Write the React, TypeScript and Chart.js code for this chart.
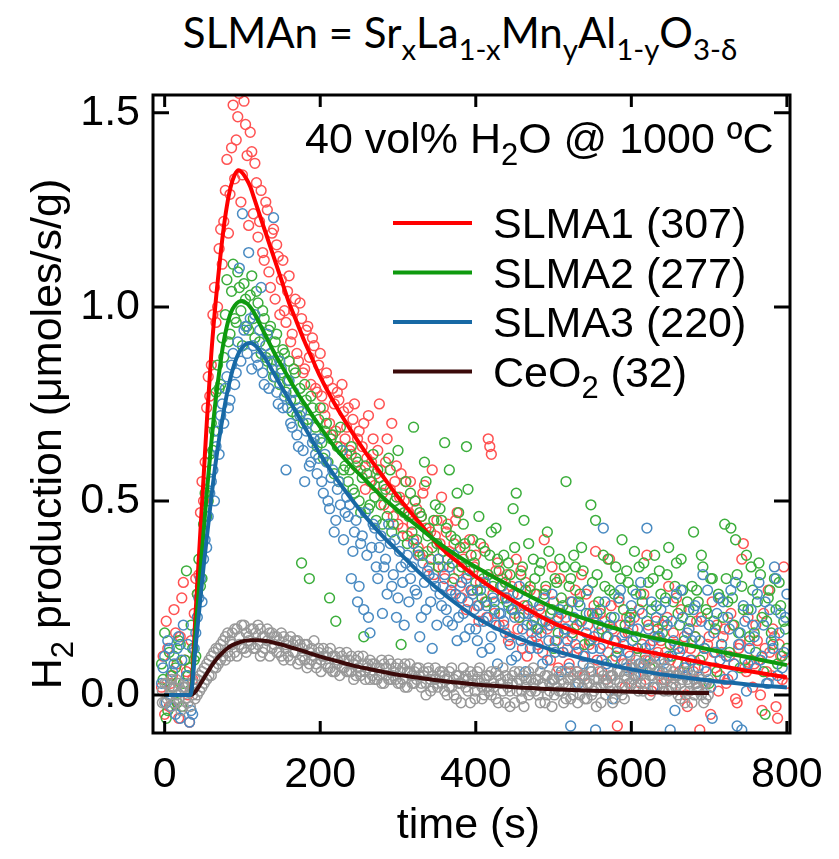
import React, { useEffect, useRef } from "react";
import { Chart, registerables } from "chart.js";

Chart.register(...registerables);

const FONT = '"Liberation Sans", Arial, Helvetica, sans-serif';
const TITLE_FONT = 'Lato, "Open Sans", sans-serif';

// ---- axes ----
const X_MIN = -15;
const X_MAX = 804;
const Y_MIN = -0.098;
const Y_MAX = 1.546;
const X_TICKS = [0, 200, 400, 600, 800];
const Y_TICKS = [0, 0.5, 1.0, 1.5];

// ---- texts ----
const TITLE_RUNS: Array<[string, boolean]> = [
  ["SLMAn = Sr", false], ["x", true], ["La", false], ["1-x", true], ["Mn", false],
  ["y", true], ["Al", false], ["1-y", true], ["O", false], ["3-δ", true],
];
const X_TITLE = "time (s)";
const Y_TITLE = "H₂ production (μmoles/s/g)";
const NOTE = "40 vol% H₂O @ 1000 ºC";
const LEGEND_LABELS = ["SLMA1 (307)", "SLMA2 (277)", "SLMA3 (220)", "CeO₂ (32)"];

// ---- fitted curves ----
const CURVE_T = [0, 33, 40, 45, 50, 55, 60, 65, 70, 75, 80, 85, 90, 95, 100, 105, 110, 115, 120,
  130, 140, 150, 160, 170, 180, 190, 200, 220, 240, 260, 280, 300, 325, 350, 375, 400,
  450, 500, 550, 600, 650, 700, 750, 800];
const FIT_SLMA1 = [0, 0, 0.22, 0.39, 0.56, 0.73, 0.88, 1.00, 1.10, 1.19, 1.26, 1.31, 1.34, 1.352, 1.345, 1.33, 1.31, 1.28, 1.25,
  1.19, 1.13, 1.07, 1.01, 0.96, 0.91, 0.865, 0.82, 0.745, 0.68, 0.62, 0.565, 0.51, 0.45, 0.39, 0.345, 0.305,
  0.24, 0.185, 0.148, 0.12, 0.10, 0.08, 0.062, 0.045];
const FIT_SLMA2 = [0, 0, 0.17, 0.30, 0.42, 0.54, 0.65, 0.75, 0.83, 0.90, 0.95, 0.985, 1.003, 1.013, 1.015, 1.01, 1.0, 0.985, 0.965,
  0.925, 0.885, 0.85, 0.815, 0.78, 0.75, 0.72, 0.69, 0.635, 0.59, 0.55, 0.51, 0.475, 0.435, 0.395, 0.36, 0.33,
  0.275, 0.225, 0.19, 0.16, 0.138, 0.117, 0.097, 0.077];
const FIT_SLMA3 = [0, 0, 0.13, 0.23, 0.33, 0.42, 0.51, 0.59, 0.66, 0.72, 0.775, 0.82, 0.855, 0.88, 0.896, 0.905, 0.907, 0.903, 0.893,
  0.865, 0.83, 0.795, 0.76, 0.725, 0.69, 0.655, 0.62, 0.56, 0.505, 0.455, 0.41, 0.37, 0.32, 0.275, 0.235, 0.20,
  0.15, 0.115, 0.088, 0.066, 0.05, 0.037, 0.027, 0.019];
const FIT_CEO2 = [0, 0, 0.01, 0.025, 0.042, 0.058, 0.074, 0.088, 0.10, 0.11, 0.119, 0.126, 0.131, 0.135, 0.138, 0.14, 0.141, 0.141, 0.141,
  0.139, 0.135, 0.13, 0.124, 0.118, 0.112, 0.105, 0.099, 0.088, 0.077, 0.068, 0.06, 0.052, 0.045, 0.038, 0.032, 0.027,
  0.02, 0.015, 0.011, 0.008, 0.006, 0.005, null, null];

// ---- measured points (SLMA series), two interleaved sampling grids ----
const T_SCAT = [-4, 0, 4, 8, 12, 16, 20, 24, 28, 32,
  36, 40, 44, 48, 52, 56, 60, 64, 68, 72,
  76, 80, 84, 88, 92, 96, 100, 104, 108, 112,
  116, 120, 124, 128, 132, 136, 140, 144, 148, 152,
  156, 160, 164, 168, 172, 176, 180, 184, 188, 192,
  196, 200, 204, 208, 212, 216, 220, 224, 228, 232,
  236, 240, 244, 248, 252, 256, 260, 264, 268, 272,
  276, 280, 284, 288, 292, 296, 300, 304, 308, 312,
  316, 320, 324, 328, 332, 336, 340, 344, 348, 352,
  356, 360, 364, 368, 372, 376, 380, 384, 388, 392,
  396, 400, 404, 408, 412, 416, 420, 424, 428, 432,
  436, 440, 444, 448, 452, 456, 460, 464, 468, 472,
  476, 480, 484, 488, 492, 496, 500, 504, 508, 512,
  516, 520, 524, 528, 532, 536, 540, 544, 548, 552,
  556, 560, 564, 568, 572, 576, 580, 584, 588, 592,
  596, 600, 604, 608, 612, 616, 620, 624, 628, 632,
  636, 640, 644, 648, 652, 656, 660, 664, 668, 672,
  676, 680, 684, 688, 692, 696, 700, 704, 708, 712,
  716, 720, 724, 728, 732, 736, 740, 744, 748, 752,
  756, 760, 764, 768, 772, 776, 780, 784, 788, 792,
  796, 800];
const T_SCAT_B = [-2, 2, 6, 10, 14, 18, 22, 26, 30, 34,
  38, 42, 46, 50, 54, 58, 62, 66, 70, 74,
  78, 82, 86, 90, 94, 98, 102, 106, 110, 114,
  118, 122, 126, 130, 134, 138, 142, 146, 150, 154,
  158, 162, 166, 170, 174, 178, 182, 186, 190, 194,
  198, 202, 206, 210, 214, 218, 222, 226, 230, 234,
  238, 242, 246, 250, 254, 258, 262, 266, 270, 274,
  278, 282, 286, 290, 294, 298, 302, 306, 310, 314,
  318, 322, 326, 330, 334, 338, 342, 346, 350, 354,
  358, 362, 366, 370, 374, 378, 382, 386, 390, 394,
  398, 402, 406, 410, 414, 418, 422, 426, 430, 434,
  438, 442, 446, 450, 454, 458, 462, 466, 470, 474,
  478, 482, 486, 490, 494, 498, 502, 506, 510, 514,
  518, 522, 526, 530, 534, 538, 542, 546, 550, 554,
  558, 562, 566, 570, 574, 578, 582, 586, 590, 594,
  598, 602, 606, 610, 614, 618, 622, 626, 630, 634,
  638, 642, 646, 650, 654, 658, 662, 666, 670, 674,
  678, 682, 686, 690, 694, 698, 702, 706, 710, 714,
  718, 722, 726, 730, 734, 738, 742, 746, 750, 754,
  758, 762, 766, 770, 774, 778, 782, 786, 790, 794,
  798];

const PTS_SLMA1 = [0.02, -0.05, 0.12, 0.03, 0.22, 0.08, 0.15, 0.29, 0.06, -0.07,
  0.04, 0.30, 0.31, 0.55, 0.60, 0.82, 0.85, 1.05, 1.00, 1.20,
  1.22, 1.38, 1.29, 1.52, 1.43, 1.55, 1.34, 1.47, 1.21, 1.40,
  1.37, 1.18, 1.30, 1.12, 1.25, 1.05, 1.20, 1.16, 0.98, 1.12,
  0.96, 1.08, 0.93, 1.02, 0.86, 0.97, 0.84, 0.95, 0.80, 0.90,
  0.78, 0.88, 0.74, 0.83, 0.70, 0.79, 0.68, 0.76, 0.80, 0.66,
  0.74, 0.62, 0.75, 0.66, 0.58, 0.70, 0.61, 0.55, 0.66, 0.57,
  0.75, 0.52, 0.60, 0.48, 0.70, 0.55, 0.44, 0.57, 0.50, 0.41,
  0.55, 0.40, 0.48, 0.36, 0.52, 0.43, 0.33, 0.58, 0.41, 0.35,
  0.51, 0.30, 0.44, 0.26, 0.39, 0.47, 0.28, 0.35, 0.22, 0.40,
  0.27, 0.36, 0.19, 0.31, 0.24, 0.66, 0.62, 0.21, 0.34, 0.28,
  0.18, 0.31, 0.15, 0.26, 0.35, 0.20, 0.12, 0.29, 0.22, 0.16,
  0.26, 0.13, 0.21, 0.40, 0.17, 0.09, 0.24, 0.19, 0.30, 0.11,
  0.20, 0.08, 0.15, 0.27, 0.12, 0.31, 0.05, 0.18, 0.14, 0.23,
  0.09, 0.21, 0.13, 0.04, 0.35, 0.17, 0.10, 0.24, 0.15, 0.02,
  0.16, 0.07, 0.20, 0.12, 0.03, 0.26, 0.36, 0.09, 0.14, 0.19,
  0.05, 0.18, 0.11, 0.28, 0.02, 0.13, 0.08, 0.22, 0.15, -0.03,
  0.12, 0.06, 0.19, -0.09, 0.10, 0.03, 0.15, 0.24, 0.07, 0.01,
  0.11, 0.17, 0.04, 0.21, 0.08, -0.02, 0.13, 0.39, 0.06, 0.14,
  0.02, 0.18, 0.09, -0.04, 0.12, 0.27, 0.05, 0.15, -0.06, 0.10,
  0.33, 0.03];
const PTS_SLMA1_B = [0.10, 0.19, -0.03, 0.05, 0.16, -0.06, 0.25, 0.09, 0.00, 0.14,
  0.21, 0.26, 0.47, 0.50, 0.74, 0.77, 0.98, 0.96, 1.15, 1.11,
  1.30, 1.19, 1.41, 1.33, 1.49, 1.27, 1.53, 1.39, 1.45, 1.24,
  1.32, 1.22, 1.14, 1.27, 1.09, 1.19, 1.02, 1.13, 1.07, 0.99,
  1.04, 0.91, 0.99, 0.88, 1.01, 0.83, 0.94, 0.87, 0.92, 0.79,
  0.85, 0.77, 0.72, 0.81, 0.67, 0.75, 0.78, 0.64, 0.73, 0.69,
  0.63, 0.71, 0.59, 0.68, 0.64, 0.53, 0.72, 0.60, 0.54, 0.63,
  0.58, 0.49, 0.66, 0.53, 0.46, 0.59, 0.51, 0.43, 0.55, 0.47,
  0.44, 0.50, 0.38, 0.46, 0.54, 0.37, 0.42, 0.31, 0.45, 0.39,
  0.33, 0.42, 0.37, 0.29, 0.45, 0.32, 0.25, 0.38, 0.31, 0.27,
  0.33, 0.23, 0.29, 0.38, 0.20, 0.64, 0.26, 0.32, 0.18, 0.30,
  0.25, 0.14, 0.28, 0.21, 0.17, 0.32, 0.23, 0.10, 0.27, 0.19,
  0.15, 0.22, 0.11, 0.27, 0.18, 0.33, 0.14, 0.07, 0.21, 0.16,
  0.12, 0.24, 0.17, 0.06, 0.19, 0.10, 0.26, 0.13, 0.21, 0.37,
  0.16, 0.06, 0.19, 0.11, 0.23, 0.14, -0.08, 0.18, 0.08, 0.20,
  0.10, 0.17, 0.05, 0.22, 0.13, 0.09, 0.18, 0.01, 0.15, 0.11,
  0.14, 0.04, 0.20, 0.09, 0.16, 0.25, 0.06, 0.12, 0.00, 0.17,
  0.09, 0.15, 0.02, 0.20, 0.07, 0.13, -0.05, 0.11, 0.18, 0.05,
  0.15, 0.03, 0.10, 0.18, -0.01, 0.12, 0.35, 0.07, 0.20, 0.09,
  0.08, 0.14, 0.00, 0.21, 0.06, 0.11, 0.17, -0.03, 0.13, 0.04,
  0.09];
const PTS_SLMA2 = [0.08, 0.16, -0.04, 0.05, 0.10, -0.02, 0.13, 0.03, 0.32, 0.07,
  0.12, 0.10, 0.35, 0.30, 0.52, 0.50, 0.70, 0.68, 0.85, 0.80,
  0.87, 1.07, 0.93, 1.11, 0.96, 1.05, 0.90, 1.02, 0.94, 1.08,
  0.92, 1.01, 0.88, 0.97, 0.86, 0.95, 0.82, 0.93, 0.80, 0.89,
  0.78, 0.86, 0.73, 0.83, 0.74, 0.34, 0.80, 0.71, 0.77, 0.66,
  0.64, 0.74, 0.61, 0.70, 0.25, 0.67, 0.19, 0.55, 0.63, 0.59,
  0.55, 0.64, 0.52, 0.60, 0.47, 0.15, 0.57, 0.49, 0.62, 0.45,
  0.56, 0.44, 0.53, 0.61, 0.42, 0.50, 0.63, 0.13, 0.47, 0.39,
  0.52, 0.69, 0.40, 0.47, 0.36, 0.55, 0.43, 0.38, 0.49, 0.33,
  0.45, 0.65, 0.35, 0.41, 0.30, 0.52, 0.38, 0.44, 0.64, 0.32,
  0.40, 0.29, 0.46, 0.25, 0.37, 0.31, 0.42, 0.22, 0.35, 0.28,
  0.36, 0.24, 0.31, 0.48, 0.52, 0.20, 0.33, 0.27, 0.39, 0.18,
  0.30, 0.17, 0.34, 0.26, 0.42, 0.21, 0.12, 0.29, 0.35, 0.23,
  0.55, 0.28, 0.16, 0.33, 0.24, 0.38, 0.13, 0.27, 0.49, 0.20,
  0.31, 0.22, 0.36, 0.15, 0.27, 0.09, 0.33, 0.25, 0.40, 0.18,
  0.29, 0.21, 0.37, 0.12, 0.26, 0.34, 0.19, 0.07, 0.30, 0.23,
  0.32, 0.16, 0.25, 0.38, 0.10, 0.28, 0.21, 0.35, 0.14, 0.24,
  0.19, 0.42, 0.27, 0.09, 0.33, 0.22, 0.03, 0.30, 0.17, 0.26,
  0.13, 0.44, 0.24, 0.43, 0.18, 0.31, 0.07, 0.22, 0.36, 0.15,
  0.27, 0.11, 0.34, 0.20, -0.05, 0.25, 0.16, 0.30, 0.08, 0.23,
  0.19, 0.12];
const PTS_SLMA2_B = [0.04, -0.06, 0.11, 0.02, 0.07, 0.14, -0.03, 0.09, 0.05, 0.18,
  0.09, 0.26, 0.28, 0.44, 0.46, 0.62, 0.63, 0.78, 0.79, 0.92,
  0.98, 0.91, 1.04, 0.97, 1.09, 0.99, 1.06, 0.95, 1.03, 0.97,
  1.04, 0.91, 0.99, 0.87, 0.94, 0.84, 0.91, 0.87, 0.83, 0.88,
  0.81, 0.76, 0.84, 0.72, 0.79, 0.70, 0.76, 0.30, 0.74, 0.69,
  0.71, 0.65, 0.68, 0.60, 0.66, 0.57, 0.64, 0.69, 0.58, 0.62,
  0.58, 0.53, 0.61, 0.50, 0.56, 0.59, 0.48, 0.55, 0.51, 0.58,
  0.49, 0.54, 0.46, 0.58, 0.44, 0.51, 0.48, 0.41, 0.55, 0.46,
  0.42, 0.50, 0.37, 0.46, 0.60, 0.41, 0.35, 0.45, 0.39, 0.48,
  0.37, 0.43, 0.58, 0.34, 0.40, 0.47, 0.33, 0.39, 0.53, 0.36,
  0.34, 0.27, 0.39, 0.30, 0.24, 0.36, 0.28, 0.43, 0.32, 0.25,
  0.29, 0.34, 0.22, 0.38, 0.26, 0.31, 0.45, 0.23, 0.28, 0.35,
  0.26, 0.32, 0.19, 0.28, 0.37, 0.22, 0.30, 0.16, 0.25, 0.33,
  0.22, 0.30, 0.36, 0.18, 0.26, 0.32, 0.21, 0.14, 0.29, 0.45,
  0.24, 0.17, 0.28, 0.35, 0.20, 0.26, 0.12, 0.30, 0.22, 0.32,
  0.20, 0.27, 0.15, 0.33, 0.24, 0.10, 0.29, 0.22, 0.36, 0.17,
  0.26, 0.19, 0.31, 0.13, 0.24, 0.34, 0.18, 0.27, 0.08, 0.22,
  0.28, 0.15, 0.24, 0.36, 0.12, 0.21, 0.30, 0.19, 0.06, 0.25,
  0.20, 0.30, 0.11, 0.25, 0.40, 0.16, 0.28, 0.09, 0.22, 0.33,
  0.16, 0.24, 0.31, 0.06, 0.19, 0.27, 0.13, 0.22, 0.29, 0.10,
  0.17];
const PTS_SLMA3 = [0.03, 0.10, 0.14, -0.03, 0.08, 0.12, -0.06, 0.18, 0.05, -0.07,
  -0.05, 0.16, 0.25, 0.24, 0.40, 0.46, 0.55, 0.50, 0.68, 0.72,
  0.70, 0.82, 0.76, 0.88, 0.83, 1.10, 1.24, 0.95, 1.14, 0.84,
  0.98, 0.85, 1.05, 0.80, 0.93, 0.88, 1.23, 0.78, 0.86, 0.74,
  0.58, 0.81, 0.69, 0.76, 0.64, 0.73, 0.55, 0.70, 0.60, 0.66,
  0.57, 0.66, 0.52, 0.60, 0.48, 0.58, 0.45, 0.55, 0.63, 0.47,
  0.46, 0.30, 0.42, 0.24, 0.39, 0.22, 0.36, 0.16, 0.44, 0.33,
  0.38, 0.21, 0.35, 0.44, 0.28, 0.40, 0.25, 0.33, 0.18, 0.36,
  0.30, 0.39, 0.26, 0.15, 0.34, 0.22, 0.31, 0.12, 0.28, 0.35,
  0.23, 0.31, 0.19, 0.27, 0.36, 0.14, 0.25, 0.21, 0.30, 0.17,
  0.26, 0.17, 0.23, 0.11, 0.29, 0.20, 0.15, 0.24, 0.08, 0.21,
  0.19, 0.25, 0.13, 0.22, 0.10, 0.28, 0.17, 0.06, 0.21, 0.14,
  0.20, 0.12, 0.16, 0.25, 0.09, 0.18, 0.04, 0.14, 0.22, 0.11,
  0.17, 0.07, 0.24, 0.13, 0.03, 0.19, 0.10, 0.27, 0.06, 0.15,
  0.21, 0.12, 0.43, 0.08, 0.18, -0.01, 0.14, 0.25, 0.09, 0.16,
  0.11, 0.23, 0.05, 0.17, 0.29, 0.08, 0.43, 0.13, 0.02, 0.20,
  0.15, 0.06, 0.24, 0.10, 0.19, -0.04, 0.12, 0.27, 0.07, 0.16,
  0.09, 0.22, 0.03, 0.14, 0.31, 0.06, 0.18, -0.06, 0.11, 0.25,
  0.13, 0.04, 0.20, 0.27, 0.08, -0.08, 0.16, 0.23, 0.01, 0.12,
  0.18, 0.07, 0.29, 0.10, 0.24, 0.03, 0.14, 0.33, 0.05, 0.21,
  0.11, 0.26];
const PTS_SLMA3_B = [0.07, -0.02, 0.12, 0.06, -0.05, 0.15, 0.09, 0.02, 0.13, -0.04,
  0.12, 0.20, 0.30, 0.35, 0.38, 0.52, 0.58, 0.64, 0.62, 0.75,
  0.79, 0.74, 0.85, 0.80, 0.91, 0.86, 0.94, 0.88, 0.97, 0.90,
  0.87, 0.94, 0.83, 0.90, 0.79, 0.86, 0.82, 0.75, 0.84, 0.77,
  0.74, 0.70, 0.78, 0.67, 0.72, 0.63, 0.68, 0.59, 0.65, 0.62,
  0.61, 0.55, 0.62, 0.50, 0.56, 0.42, 0.53, 0.49, 0.40, 0.51,
  0.49, 0.37, 0.45, 0.28, 0.41, 0.47, 0.20, 0.38, 0.43, 0.30,
  0.41, 0.33, 0.26, 0.39, 0.31, 0.20, 0.37, 0.29, 0.34, 0.24,
  0.33, 0.27, 0.36, 0.20, 0.29, 0.32, 0.24, 0.30, 0.18, 0.26,
  0.28, 0.22, 0.33, 0.18, 0.26, 0.20, 0.29, 0.15, 0.24, 0.27,
  0.22, 0.14, 0.27, 0.19, 0.23, 0.12, 0.25, 0.18, 0.21, 0.28,
  0.16, 0.23, 0.09, 0.20, 0.26, 0.14, 0.21, 0.18, 0.12, 0.24,
  0.17, 0.23, 0.08, 0.19, 0.14, 0.26, 0.11, 0.20, 0.06, 0.17,
  0.14, -0.08, 0.20, 0.11, 0.23, 0.08, 0.16, 0.21, 0.12, -0.09,
  0.18, 0.09, 0.24, 0.15, 0.05, 0.20, 0.11, 0.27, 0.13, 0.07,
  0.19, 0.14, 0.26, 0.08, 0.21, 0.12, 0.17, 0.24, 0.10, 0.15,
  0.22, 0.09, 0.18, -0.09, 0.14, 0.26, 0.11, 0.20, 0.05, 0.17,
  0.14, 0.23, 0.07, 0.19, 0.12, 0.27, 0.02, 0.16, 0.21, 0.09,
  0.24, 0.10, 0.17, 0.05, 0.29, 0.13, -0.09, 0.19, 0.08, 0.22,
  0.15, 0.26, 0.09, 0.18, 0.03, 0.22, 0.12, 0.30, 0.16, 0.07,
  0.20];

// ---- measured points (CeO2) ----
const T_GRAY = [-3, 0, 3, 6, 9, 12, 15, 18, 21, 24,
  27, 30, 33, 36, 39, 42, 45, 48, 51, 54,
  57, 60, 63, 66, 69, 72, 75, 78, 81, 84,
  87, 90, 93, 96, 99, 102, 105, 108, 111, 114,
  117, 120, 123, 126, 129, 132, 135, 138, 141, 144,
  147, 150, 153, 156, 159, 162, 165, 168, 171, 174,
  177, 180, 183, 186, 189, 192, 195, 198, 201, 204,
  207, 210, 213, 216, 219, 222, 225, 228, 231, 234,
  237, 240, 243, 246, 249, 252, 255, 258, 261, 264,
  267, 270, 273, 276, 279, 282, 285, 288, 291, 294,
  297, 300, 303, 306, 309, 312, 315, 318, 321, 324,
  327, 330, 333, 336, 339, 342, 345, 348, 351, 354,
  357, 360, 363, 366, 369, 372, 375, 378, 381, 384,
  387, 390, 393, 396, 399, 402, 405, 408, 411, 414,
  417, 420, 423, 426, 429, 432, 435, 438, 441, 444,
  447, 450, 453, 456, 459, 462, 465, 468, 471, 474,
  477, 480, 483, 486, 489, 492, 495, 498, 501, 504,
  507, 510, 513, 516, 519, 522, 525, 528, 531, 534,
  537, 540, 543, 546, 549, 552, 555, 558, 561, 564,
  567, 570, 573, 576, 579, 582, 585, 588, 591, 594,
  597, 600, 603, 606, 609, 612, 615, 618, 621, 624,
  627, 630, 633, 636, 639, 642, 645, 648, 651, 654,
  657, 660, 663, 666, 669, 672, 675, 678, 681, 684,
  687, 690, 693, 696, 699];
const PTS_CEO2 = [0.01, -0.02, 0.03, 0.0, -0.03, 0.02, 0.04, -0.01, 0.01, -0.03,
  0.02, -0.02, 0.01, 0.03, -0.01, 0.04, 0.01, 0.06, 0.03, 0.08,
  0.05, 0.10, 0.07, 0.12, 0.08, 0.13, 0.10, 0.15, 0.11, 0.14,
  0.16, 0.11, 0.17, 0.13, 0.18, 0.12, 0.16, 0.14, 0.17, 0.12,
  0.16, 0.13, 0.17, 0.11, 0.15, 0.14, 0.16, 0.12, 0.15, 0.11,
  0.14, 0.10, 0.15, 0.12, 0.14, 0.09, 0.13, 0.11, 0.14, 0.09,
  0.12, 0.09, 0.13, 0.08, 0.12, 0.10, 0.07, 0.11, 0.09, 0.12,
  0.08, 0.11, 0.07, 0.10, 0.06, 0.09, 0.11, 0.07, 0.09, 0.06,
  0.09, 0.06, 0.08, 0.05, 0.10, 0.06, 0.08, 0.04, 0.07, 0.09,
  0.05, 0.08, 0.04, 0.07, 0.03, 0.08, 0.05, 0.09, 0.04, 0.06,
  0.07, 0.03, 0.06, 0.04, 0.08, 0.02, 0.06, 0.05, 0.03, 0.07,
  0.05, 0.02, 0.06, 0.03, 0.07, 0.01, 0.05, 0.04, 0.02, 0.06,
  0.03, 0.05, 0.00, 0.06, 0.02, 0.04, -0.01, 0.05, 0.03, 0.07,
  0.02, 0.04, -0.02, 0.05, 0.01, 0.06, 0.03, -0.01, 0.04, 0.02,
  0.05, 0.00, 0.03, 0.06, -0.02, 0.04, 0.01, 0.05, 0.02, -0.03,
  0.03, 0.06, 0.01, 0.04, -0.01, 0.05, 0.02, 0.00, 0.04, 0.07,
  0.01, 0.04, -0.02, 0.03, 0.05, 0.00, 0.03, -0.03, 0.04, 0.02,
  0.05, 0.01, 0.03, -0.01, 0.04, 0.06, 0.00, 0.02, -0.02, 0.05,
  0.02, 0.04, -0.01, 0.03, 0.06, 0.01, -0.03, 0.04, 0.02, 0.05,
  0.00, 0.03, 0.05, -0.02, 0.04, 0.01, 0.06, 0.02, -0.01, 0.04,
  0.06, 0.03, 0.07, 0.02, 0.05, 0.08, 0.01, 0.04, 0.06, 0.00,
  0.05, 0.07, 0.02, 0.06, 0.03, 0.08, 0.04, 0.01, 0.05, 0.03,
  0.02, 0.05, -0.01, 0.04, 0.01, 0.06, 0.03, -0.02, 0.04, 0.02,
  0.05, 0.00, 0.03, -0.01, 0.04];
const PTS_CEO2_B = [-0.02, 0.03, -0.01, 0.02, 0.04, -0.02, 0.00, 0.03, -0.04, 0.02,
  -0.01, 0.03, -0.03, 0.00, 0.04, 0.00, 0.05, 0.02, 0.07, 0.04,
  0.09, 0.05, 0.11, 0.07, 0.12, 0.09, 0.14, 0.09, 0.16, 0.10,
  0.13, 0.17, 0.10, 0.15, 0.12, 0.18, 0.11, 0.15, 0.13, 0.17,
  0.12, 0.18, 0.10, 0.15, 0.12, 0.17, 0.10, 0.16, 0.13, 0.15,
  0.11, 0.16, 0.09, 0.13, 0.10, 0.15, 0.11, 0.14, 0.08, 0.13,
  0.10, 0.13, 0.07, 0.11, 0.09, 0.14, 0.08, 0.12, 0.06, 0.10,
  0.10, 0.07, 0.12, 0.06, 0.10, 0.08, 0.05, 0.10, 0.07, 0.11,
  0.06, 0.10, 0.04, 0.09, 0.07, 0.05, 0.10, 0.06, 0.08, 0.04,
  0.08, 0.04, 0.07, 0.05, 0.09, 0.03, 0.07, 0.04, 0.08, 0.05,
  0.04, 0.08, 0.03, 0.07, 0.02, 0.06, 0.08, 0.03, 0.06, 0.04,
  0.07, 0.03, 0.05, 0.00, 0.06, 0.04, 0.02, 0.07, 0.03, 0.05,
  0.06, 0.01, 0.04, 0.02, 0.07, 0.00, 0.05, 0.03, -0.02, 0.04,
  0.05, 0.01, 0.06, 0.03, -0.01, 0.04, 0.07, 0.02, 0.00, 0.05,
  0.01, 0.06, 0.02, -0.01, 0.05, 0.03, 0.07, -0.02, 0.04, 0.01,
  0.05, -0.02, 0.03, 0.06, 0.01, -0.03, 0.04, 0.06, 0.01, 0.03,
  0.04, 0.00, 0.06, 0.02, -0.02, 0.05, 0.01, 0.04, 0.00, 0.06,
  0.01, 0.04, -0.02, 0.06, 0.02, -0.01, 0.05, 0.03, 0.06, 0.00,
  0.05, -0.01, 0.03, 0.07, 0.00, 0.04, 0.02, 0.06, -0.02, 0.03,
  0.04, 0.07, 0.01, 0.05, -0.01, 0.06, 0.03, 0.00, 0.05, 0.08,
  0.03, 0.08, 0.04, 0.09, 0.01, 0.05, 0.07, 0.03, 0.09, 0.05,
  0.08, 0.02, 0.06, 0.09, 0.04, 0.01, 0.07, 0.05, 0.02, 0.06,
  0.05, 0.00, 0.03, 0.06, -0.02, 0.04, 0.01, 0.05, 0.00, 0.03,
  0.01, 0.04, -0.02, 0.03, 0.00];

// ---- colours ----
const LINE_COLORS = ["#ff0000", "#0e9a0e", "#1869a5", "#3b0a0a"];
const POINT_COLORS = ["#ff5252", "#3cae3c", "#4a8bc2", "#999999"];

const SUBS: Record<string, string> = { "₂": "2" };

function runsOf(text: string) {
  const runs: { t: string; sub: boolean }[] = [];
  for (const ch of text) {
    const s = SUBS[ch];
    const sub = s !== undefined;
    const c = sub ? s : ch;
    const last = runs[runs.length - 1];
    if (last && last.sub === sub) last.t += c;
    else runs.push({ t: c, sub });
  }
  return runs;
}

function drawRich(ctx: CanvasRenderingContext2D, text: string, x: number, y: number, size: number, align: "left" | "center") {
  const runs = runsOf(text);
  const subSize = size * 0.72;
  const widths = runs.map((r) => {
    ctx.font = `${r.sub ? subSize : size}px ${FONT}`;
    return ctx.measureText(r.t).width;
  });
  const total = widths.reduce((a, b) => a + b, 0);
  let cx = align === "center" ? x - total / 2 : x;
  ctx.textAlign = "left";
  ctx.textBaseline = "alphabetic";
  runs.forEach((r, i) => {
    ctx.font = `${r.sub ? subSize : size}px ${FONT}`;
    ctx.fillText(r.t, cx, r.sub ? y + size * 0.27 : y);
    cx += widths[i];
  });
}

const pts = (xs: number[], ys: (number | null)[]) => xs.map((t, i) => ({ x: t, y: ys[i] }));

const decorPlugin = {
  id: "decor",
  afterDraw(chart: any) {
    const { ctx, chartArea: a, scales } = chart;
    const xs = scales.x;
    const ys = scales.y;
    ctx.save();
    ctx.strokeStyle = "#000";
    ctx.lineWidth = 3;
    ctx.strokeRect(a.left, a.top, a.right - a.left, a.bottom - a.top);
    ctx.beginPath();
    X_TICKS.forEach((v) => {
      const px = xs.getPixelForValue(v);
      ctx.moveTo(px, a.bottom);
      ctx.lineTo(px, a.bottom - 12);
      ctx.moveTo(px, a.top);
      ctx.lineTo(px, a.top + 12);
    });
    Y_TICKS.forEach((v) => {
      const py = ys.getPixelForValue(v);
      ctx.moveTo(a.left, py);
      ctx.lineTo(a.left + 16, py);
      ctx.moveTo(a.right, py);
      ctx.lineTo(a.right - 16, py);
    });
    ctx.stroke();

    ctx.fillStyle = "#000";
    drawRich(ctx, NOTE, a.left + 152, a.top + 58, 43, "left");

    LEGEND_LABELS.forEach((label, i) => {
      const cy = a.top + 128 + i * 49.5;
      ctx.strokeStyle = LINE_COLORS[i];
      ctx.lineWidth = 4;
      ctx.beginPath();
      ctx.moveTo(a.left + 240, cy);
      ctx.lineTo(a.left + 319, cy);
      ctx.stroke();
      ctx.fillStyle = "#000";
      drawRich(ctx, label, a.left + 340, cy + 15, 43, "left");
    });

    drawRich(ctx, X_TITLE, (a.left + a.right) / 2 - 3, 838, 43, "center");
    ctx.save();
    ctx.translate(61, 434);
    ctx.rotate(-Math.PI / 2);
    drawRich(ctx, Y_TITLE, 0, 0, 43, "center");
    ctx.restore();
    ctx.restore();
  },
};

export default function App() {
  const ref = useRef<HTMLCanvasElement | null>(null);

  useEffect(() => {
    if (!ref.current) return;
    const scatterDs = (label: string, data: { x: number; y: number | null }[], color: string, order: number) => ({
      type: "scatter" as const,
      label,
      data,
      showLine: false,
      pointStyle: "circle",
      pointRadius: 4.9,
      pointBorderWidth: 1.5,
      pointBorderColor: color,
      pointBackgroundColor: "rgba(0,0,0,0)",
      pointHoverRadius: 4.9,
      order,
    });
    const fitDs = (label: string, ys: (number | null)[], color: string, order: number) => ({
      type: "scatter" as const,
      label,
      data: pts(CURVE_T, ys),
      showLine: true,
      borderColor: color,
      borderWidth: 4,
      pointRadius: 0,
      pointHoverRadius: 0,
      cubicInterpolationMode: "monotone",
      spanGaps: false,
      fill: false,
      order,
    });

    const chart = new Chart(ref.current, {
      type: "scatter",
      data: {
        datasets: [
          fitDs(LEGEND_LABELS[2], FIT_SLMA3, LINE_COLORS[2], 0),
          fitDs(LEGEND_LABELS[1], FIT_SLMA2, LINE_COLORS[1], 1),
          fitDs(LEGEND_LABELS[0], FIT_SLMA1, LINE_COLORS[0], 2),
          fitDs(LEGEND_LABELS[3], FIT_CEO2, LINE_COLORS[3], 3),
          scatterDs("CeO2 data", pts(T_GRAY, PTS_CEO2).concat(pts(T_GRAY, PTS_CEO2_B)), POINT_COLORS[3], 4),
          scatterDs("SLMA3 data", pts(T_SCAT, PTS_SLMA3).concat(pts(T_SCAT_B, PTS_SLMA3_B)), POINT_COLORS[2], 5),
          scatterDs("SLMA2 data", pts(T_SCAT, PTS_SLMA2).concat(pts(T_SCAT_B, PTS_SLMA2_B)), POINT_COLORS[1], 6),
          scatterDs("SLMA1 data", pts(T_SCAT, PTS_SLMA1).concat(pts(T_SCAT_B, PTS_SLMA1_B)), POINT_COLORS[0], 7),
        ] as any,
      },
      options: {
        animation: false,
        responsive: false,
        devicePixelRatio: 1,
        events: [],
        layout: { padding: { top: 95, right: 47, left: 0, bottom: 0 } },
        plugins: {
          legend: { display: false },
          tooltip: { enabled: false },
          title: { display: false },
        },
        scales: {
          x: {
            type: "linear",
            min: X_MIN,
            max: X_MAX,
            afterBuildTicks: (s: any) => {
              s.ticks = X_TICKS.map((v) => ({ value: v }));
            },
            afterFit: (s: any) => {
              s.height = 126;
            },
            grid: { display: false, drawTicks: false },
            border: { display: false },
            ticks: {
              color: "#000",
              font: { family: FONT, size: 43 },
              padding: 16,
              maxRotation: 0,
              minRotation: 0,
              autoSkip: false,
              callback: (v: any) => String(v),
            },
          },
          y: {
            type: "linear",
            min: Y_MIN,
            max: Y_MAX,
            afterBuildTicks: (s: any) => {
              s.ticks = Y_TICKS.map((v) => ({ value: v }));
            },
            afterFit: (s: any) => {
              s.width = 153;
            },
            grid: { display: false, drawTicks: false },
            border: { display: false },
            ticks: {
              color: "#000",
              font: { family: FONT, size: 43 },
              padding: 13,
              autoSkip: false,
              callback: (v: any) => Number(v).toFixed(1),
            },
          },
        },
      } as any,
      plugins: [decorPlugin],
    });
    return () => chart.destroy();
  }, []);

  return (
    <div style={{ position: "absolute", left: 0, top: 0, width: 839, height: 859, background: "#fff", overflow: "hidden" }}>
      <div
        style={{
          position: "absolute",
          left: 81,
          top: 11,
          width: 758,
          textAlign: "center",
          fontFamily: TITLE_FONT,
          fontSize: 42,
          lineHeight: 1,
          whiteSpace: "nowrap",
          color: "#000",
        }}
      >
        {TITLE_RUNS.map(([t, sub], i) =>
          sub ? (
            <span key={i} style={{ fontSize: "0.7em", position: "relative", top: "0.4em" }}>{t}</span>
          ) : (
            <span key={i}>{t}</span>
          )
        )}
      </div>
      <canvas ref={ref} width={839} height={859} style={{ position: "absolute", left: 0, top: 0, width: 839, height: 859 }} />
    </div>
  );
}
